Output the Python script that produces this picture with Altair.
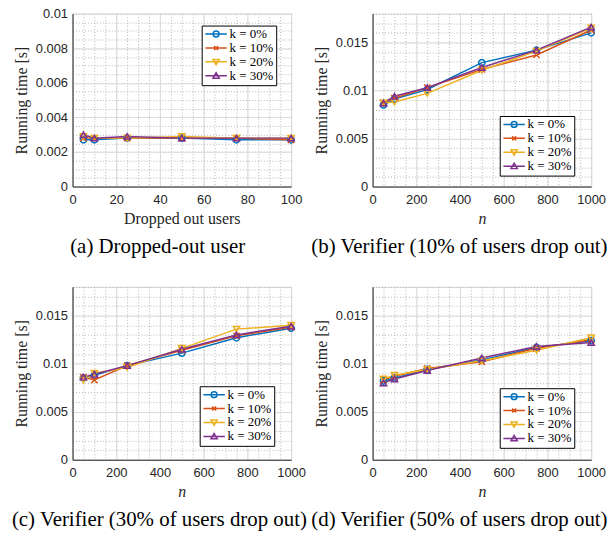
import altair as alt
import pandas as pd

series = ["k = 0%", "k = 10%", "k = 20%", "k = 30%"]
colors = ["#0072BD", "#D95319", "#EDB120", "#7E2F8E"]

# Panel (a): dropped-out user
x_a = [5, 10, 25, 50, 75, 100]
a_k0 = [0.0027, 0.0027, 0.0028, 0.0028, 0.0027, 0.0027]
a_k10 = [0.0028, 0.0028, 0.0028, 0.0028, 0.0028, 0.0027]
a_k20 = [0.0029, 0.0028, 0.0028, 0.0029, 0.0028, 0.0028]
a_k30 = [0.0030, 0.0028, 0.0029, 0.0028, 0.0028, 0.0028]

# Panels (b)-(d): verifier
x_n = [50, 100, 250, 500, 750, 1000]
b_k0 = [0.0085, 0.0091, 0.0101, 0.0129, 0.0142, 0.0160]
b_k10 = [0.0087, 0.0092, 0.0103, 0.0122, 0.0137, 0.0163]
b_k20 = [0.0087, 0.0088, 0.0097, 0.0121, 0.0141, 0.0165]
b_k30 = [0.0087, 0.0094, 0.0103, 0.0124, 0.0142, 0.0166]

c_k0 = [0.0085, 0.0088, 0.0098, 0.0111, 0.0127, 0.0137]
c_k10 = [0.0086, 0.0083, 0.0098, 0.0114, 0.0129, 0.0138]
c_k20 = [0.0083, 0.0090, 0.0096, 0.0116, 0.0136, 0.0140]
c_k30 = [0.0086, 0.0089, 0.0098, 0.0115, 0.0130, 0.0139]

d_k0 = [0.0082, 0.0085, 0.0094, 0.0104, 0.0117, 0.0124]
d_k10 = [0.0083, 0.0087, 0.0095, 0.0102, 0.0116, 0.0125]
d_k20 = [0.0084, 0.0088, 0.0094, 0.0103, 0.0114, 0.0127]
d_k30 = [0.0080, 0.0084, 0.0093, 0.0106, 0.0118, 0.0122]

captions = [
    "(a)  Dropped-out user",
    "(b)  Verifier (10% of users drop out)",
    "(c)  Verifier (30% of users drop out)",
    "(d)  Verifier (50% of users drop out)",
]

W, H = 220, 174
SANS = "Liberation Sans"
SERIF = "Liberation Serif"
AX = "#262626"

legend_shapes = [
    "M-2.4,0H2.4M0.65,0A0.65,0.65 0 1,0 -0.65,0A0.65,0.65 0 1,0 0.65,0",
    "M-2.4,0H2.4M-0.45,-0.45L0.45,0.45M-0.45,0.45L0.45,-0.45",
    "M-2.4,0H2.4M-0.7,-0.55L0.7,-0.55L0,0.65Z",
    "M-2.4,0H2.4M-0.7,0.55L0.7,0.55L0,-0.65Z",
]
shapes = ["circle", "M-1,-1L1,1M-1,1L1,-1", "triangle-down", "triangle-up"]


def panel(xv, ys, xdom, ydom, ymaj, yminor, xtitle, italic, caption, lx, ly):
    rows = []
    for s, yy in zip(series, ys):
        for xx, v in zip(xv, yy):
            rows.append({"x": xx, "y": v, "k": s})
    df = pd.DataFrame(rows)
    xs = alt.Scale(domain=xdom, nice=False, zero=False)
    ysc = alt.Scale(domain=ydom, nice=False)
    minor_x = alt.Axis(orient="bottom", grid=True, gridDash=[1, 2], gridColor="#b5b5b5",
                       labels=False, ticks=False, domain=False, title=None, tickCount=20)
    minor_y = alt.Axis(orient="left", grid=True, gridDash=[1, 2], gridColor="#b5b5b5",
                       labels=False, ticks=False, domain=False, title=None, tickCount=yminor)
    major_x = alt.Axis(orient="bottom", grid=True, gridColor="#dcdcdc", tickCount=5,
                       ticks=False, domainColor=AX, labelFont=SANS, labelFontSize=13,
                       labelColor=AX, labelPadding=7, format="d", title=xtitle,
                       titleFont=SERIF, titleFontSize=16, titleFontWeight="normal",
                       titleFontStyle="italic" if italic else "normal",
                       titleColor=AX, titlePadding=4, labelFlush=False)
    major_y = alt.Axis(orient="left", grid=True, gridColor="#dcdcdc", tickCount=ymaj,
                       ticks=False, domainColor=AX, labelFont=SANS, labelFontSize=13,
                       labelColor=AX, labelPadding=5, format="~g",
                       title="Running time [s]", titleFont=SERIF, titleFontSize=16,
                       titleFontWeight="normal", titleColor=AX, titlePadding=6)
    col = alt.Scale(domain=series, range=colors)
    base = alt.Chart(df)
    minor = base.mark_line(opacity=0).encode(
        x=alt.X("x:Q", scale=xs, axis=minor_x),
        y=alt.Y("y:Q", scale=ysc, axis=minor_y),
        detail="k:N",
    )
    lines = base.mark_line(strokeWidth=1.5).encode(
        x=alt.X("x:Q", scale=xs, axis=major_x),
        y=alt.Y("y:Q", scale=ysc, axis=major_y),
        color=alt.Color("k:N", scale=col, legend=None),
    )
    pts = base.mark_point(filled=False, size=40, strokeWidth=1.5, opacity=1).encode(
        x=alt.X("x:Q", scale=xs, axis=None),
        y=alt.Y("y:Q", scale=ysc, axis=None),
        color=alt.Color("k:N", scale=col, legend=None),
        shape=alt.Shape("k:N", scale=alt.Scale(domain=series, range=shapes), legend=None),
    )
    leg = alt.Legend(
        title=None, orient="none", legendX=lx, legendY=ly,
        strokeColor="black", fillColor="white", padding=2,
        symbolSize=81, symbolStrokeWidth=1.5, symbolOffset=6,
        labelOffset=7, labelFont=SERIF, labelFontSize=13, labelColor="black",
        labelFontWeight="normal", rowPadding=0,
    )
    legend_layer = base.transform_filter("false").mark_point(
        filled=False, strokeWidth=1.5, opacity=1
    ).encode(
        x=alt.X("x:Q", scale=xs, axis=None),
        y=alt.Y("y:Q", scale=ysc, axis=None),
        color=alt.Color("k:N", scale=col, legend=leg),
        shape=alt.Shape("k:N", scale=alt.Scale(domain=series, range=legend_shapes), legend=leg),
    )
    return alt.layer(minor, lines, pts, legend_layer).resolve_axis(
        x="independent", y="independent"
    ).resolve_scale(color="independent", shape="independent").properties(
        width=W, height=H,
        title=alt.TitleParams(caption, orient="bottom", font=SERIF, fontSize=21,
                              fontWeight="normal", color="black", anchor="middle",
                              frame="bounds", offset=10),
    )


pa = panel(x_a, [a_k0, a_k10, a_k20, a_k30], [0, 100], [0, 0.01], 5, 20,
           "Dropped out users", False, captions[0], 130, 12)
pb = panel(x_n, [b_k0, b_k10, b_k20, b_k30], [0, 1000], [0, 0.018], 4, 18,
           "n", True, captions[1], 128, 103)
pc = panel(x_n, [c_k0, c_k10, c_k20, c_k30], [0, 1000], [0, 0.018], 4, 18,
           "n", True, captions[2], 128, 100)
pd_ = panel(x_n, [d_k0, d_k10, d_k20, d_k30], [0, 1000], [0, 0.018], 4, 18,
            "n", True, captions[3], 128, 102)

chart = alt.concat(pa, pb, pc, pd_, columns=2, bounds="flush",
                   spacing={"row": 101, "column": 82}).resolve_scale(
    color="independent", shape="independent"
).properties(
    padding={"left": 8, "top": 5, "right": 2, "bottom": 2}
).configure_view(stroke="#dcdcdc").configure_legend(
    labelFont=SERIF, labelFontWeight="normal", labelFontSize=13, labelColor="black"
)

chart.save("out.html", embed_options={"renderer": "svg", "actions": False})
